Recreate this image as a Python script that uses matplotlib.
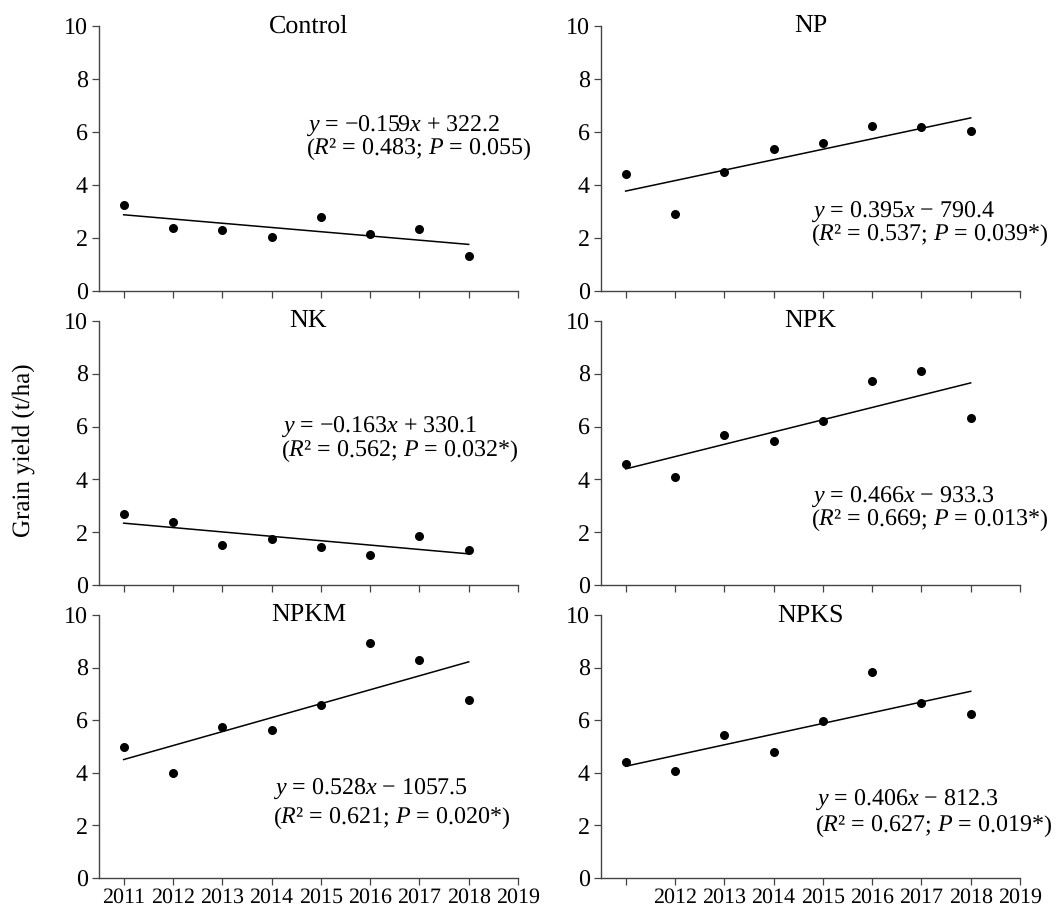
import matplotlib
matplotlib.use("Agg")
import matplotlib.pyplot as plt
import numpy as np

plt.rcParams['font.family'] = ['Liberation Serif', 'DejaVu Serif']
plt.rcParams['mathtext.fontset'] = 'custom'
plt.rcParams['mathtext.rm'] = 'Liberation Serif'
plt.rcParams['mathtext.it'] = 'Liberation Serif:italic'
plt.rcParams['text.hinting'] = 'no_hinting'
plt.rcParams['text.hinting_factor'] = 1

# years and grain yield (t/ha) per treatment
years = [2011, 2012, 2013, 2014, 2015, 2016, 2017, 2018]
treatments = ['Control', 'NP', 'NK', 'NPK', 'NPKM', 'NPKS']

control = [3.24, 2.38, 2.30, 2.04, 2.78, 2.15, 2.34, 1.31]
np_yield = [4.41, 2.91, 4.50, 5.37, 5.59, 6.21, 6.17, 6.05]
nk = [2.70, 2.40, 1.53, 1.73, 1.44, 1.13, 1.84, 1.32]
npk = [4.59, 4.10, 5.67, 5.46, 6.23, 7.73, 8.11, 6.32]
npkm = [4.97, 3.98, 5.74, 5.64, 6.59, 8.92, 8.28, 6.77]
npks = [4.40, 4.06, 5.44, 4.79, 5.97, 7.85, 6.64, 6.24]
series = [control, np_yield, nk, npk, npkm, npks]

# regression equations as printed
eq_lines = [r'$y$ = −0.159$x$ + 322.2',
            r'$y$ = 0.395$x$ − 790.4',
            r'$y$ = −0.163$x$ + 330.1',
            r'$y$ = 0.466$x$ − 933.3',
            r'$y$ = 0.528$x$ − 1057.5',
            r'$y$ = 0.406$x$ − 812.3']
stat_lines = [r'($R$² = 0.483; $P$ = 0.055)',
              r'($R$² = 0.537; $P$ = 0.039*)',
              r'($R$² = 0.562; $P$ = 0.032*)',
              r'($R$² = 0.669; $P$ = 0.013*)',
              r'($R$² = 0.621; $P$ = 0.020*)',
              r'($R$² = 0.627; $P$ = 0.019*)']

xticks = [2011, 2012, 2013, 2014, 2015, 2016, 2017, 2018, 2019]

# axes placement (fig pixels) and equation block placement (axes fraction, line spacing)
W, H = 1062, 909
cols = [99, 601]
rows = [(26, 291), (321, 585), (615, 878)]
text_pos = [(0.494, 0.578, 0.85), (0.501, 0.254, 0.85),
            (0.434, 0.551, 0.88), (0.501, 0.288, 0.85),
            (0.415, 0.282, 1.15), (0.511, 0.246, 1.0)]

fig = plt.figure(figsize=(W / 100, H / 100), dpi=100)
axc = '#444444'

for i, name in enumerate(treatments):
    r, c = divmod(i, 2)
    top, bot = rows[r]
    ax = fig.add_axes([cols[c] / W, 1 - bot / H, 419 / W, (bot - top) / H])
    y = series[i]
    ax.scatter(years, y, s=30, color='black', zorder=3)
    k, b = np.polyfit(years, y, 1)
    fit = [k * yr + b for yr in years]
    ax.plot(years, fit, color='black', lw=1.1)

    ax.set_xlim(2010.5, 2019)
    ax.set_ylim(0, 10)
    ax.set_yticks([0, 2, 4, 6, 8, 10])
    ax.set_xticks(xticks)
    if r == 2:
        labels = [str(t) for t in xticks]
        if c == 1:
            labels[0] = ''
        ax.set_xticklabels(labels, fontsize=16)
    else:
        ax.set_xticklabels([])
    ax.tick_params(axis='y', labelsize=17.5, length=5, width=0.9, color=axc, pad=3)
    ax.tick_params(axis='x', length=5, width=0.9, color=axc, pad=2)
    for s in ['top', 'right']:
        ax.spines[s].set_visible(False)
    for s in ['left', 'bottom']:
        ax.spines[s].set_color(axc)
        ax.spines[s].set_linewidth(1.0)
    ax.patch.set_alpha(0)

    ax.text(0.5, 1.0, name, transform=ax.transAxes, ha='center', va='center', fontsize=18.5)
    tx, ty, ls = text_pos[i]
    ax.text(tx, ty, eq_lines[i] + '\n' + stat_lines[i], transform=ax.transAxes,
            ha='left', va='center', fontsize=17.5, linespacing=ls, clip_on=False)

fig.text(0.022, 0.505, 'Grain yield (t/ha)', rotation=90, ha='center', va='center', fontsize=18)

fig.savefig('out.png', dpi=100)
